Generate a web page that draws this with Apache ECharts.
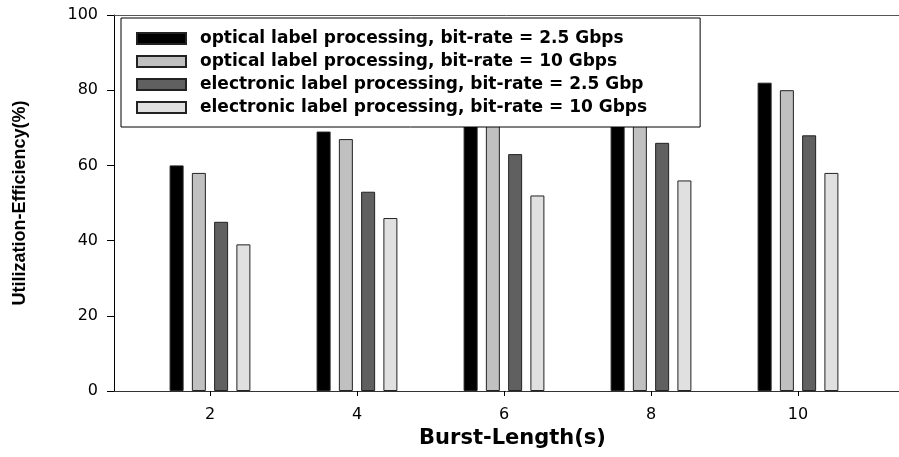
<!DOCTYPE html>
<html>
<head>
<meta charset="utf-8">
<script src="https://cdn.jsdelivr.net/npm/echarts@6/dist/echarts.min.js"></script>
<style>
  html, body { margin: 0; padding: 0; background: #fff; }
  #chart { width: 899px; height: 457px; }
</style>
</head>
<body>
<div id="chart"></div>
<script>
// burst length (s) on the x axis
const burstLengths = [2, 4, 6, 8, 10]
const yTicks = [0, 20, 40, 60, 80, 100]

const seriesNames = [
  'optical label processing, bit-rate = 2.5 Gbps',
  'optical label processing, bit-rate = 10 Gbps',
  'electronic label processing, bit-rate = 2.5 Gbp',
  'electronic label processing, bit-rate = 10 Gbps',
]

// utilization efficiency (%)
const optical25 = [60, 69, 74, 77, 82]
const optical10 = [58, 67, 72, 75, 80]
const electronic25 = [45, 53, 63, 66, 68]
const electronic10 = [39, 46, 52, 56, 58]

const seriesValues = [optical25, optical10, electronic25, electronic10]
const barColors = ['#000000', '#c0c0c0', '#606060', '#e0e0e0']

const chart = echarts.init(document.getElementById('chart'), null, { renderer: 'canvas' })

const axisFont = 'DejaVu Sans'

const option = {
  animation: false,
  backgroundColor: '#fff',
  grid: {
    left: 114,
    right: 0,
    top: 15,
    bottom: 66,
    outerBoundsMode: 'none',
    containLabel: false,
  },
  legend: {
    orient: 'vertical',
    left: 121,
    top: 18,
    padding: [12, 53, 11, 15],
    itemWidth: 49,
    itemHeight: 11,
    itemGap: 6,
    backgroundColor: '#fff',
    borderColor: '#000',
    borderWidth: 1,
    borderRadius: 0,
    icon: 'rect',
    data: seriesNames,
    textStyle: {
      fontFamily: axisFont,
      fontWeight: 'bold',
      fontSize: 17,
      lineHeight: 14,
      color: '#000',
      padding: [0, 0, 0, 9],
    },
  },
  xAxis: [
    {
      type: 'value',
      position: 'bottom',
      min: 0.694,
      max: 11.374,
      name: 'Burst-Length(s)',
      nameLocation: 'middle',
      nameGap: 37,
      nameTextStyle: {
        fontFamily: axisFont,
        fontWeight: 'bold',
        fontSize: 21,
        color: '#000',
        padding: [0, 0, 0, 12],
      },
      axisLine: { show: true, onZero: false, lineStyle: { color: '#333', width: 1 } },
      axisTick: {
        show: true,
        length: 5,
        customValues: burstLengths,
        lineStyle: { color: '#000' },
      },
      axisLabel: {
        customValues: burstLengths,
        margin: 16,
        fontFamily: axisFont,
        fontSize: 16,
        color: '#000',
      },
      splitLine: { show: false },
    },
    {
      // frame line along the top of the plot
      type: 'value',
      position: 'top',
      min: 0.694,
      max: 11.374,
      axisLine: { show: true, onZero: false, lineStyle: { color: '#555', width: 1 } },
      axisTick: { show: false },
      axisLabel: { show: false },
      splitLine: { show: false },
    },
  ],
  yAxis: {
    type: 'value',
    min: yTicks[0],
    max: yTicks[yTicks.length - 1],
    interval: 20,
    name: 'Utilization-Efficiency(%)',
    nameLocation: 'middle',
    nameRotate: 90,
    nameGap: 77,
    nameTextStyle: {
      fontFamily: 'Liberation Sans',
      fontWeight: 'bold',
      fontSize: 18,
      color: '#000',
      padding: [0, 0, 8, 0],
    },
    axisLine: { show: true, lineStyle: { color: '#000', width: 1 } },
    axisTick: { show: true, length: 7, lineStyle: { color: '#000' } },
    axisLabel: {
      margin: 16,
      fontFamily: axisFont,
      fontSize: 16,
      color: '#000',
    },
    splitLine: { show: false },
  },
  series: seriesNames.map((name, i) => ({
    name: name,
    type: 'bar',
    xAxisIndex: 0,
    barWidth: 14,
    barGap: '59%',
    data: burstLengths.map((x, j) => [x, seriesValues[i][j]]),
    itemStyle: {
      color: barColors[i],
      borderColor: '#222',
      borderWidth: 1,
    },
  })),
}

chart.setOption(option)
</script>
</body>
</html>
